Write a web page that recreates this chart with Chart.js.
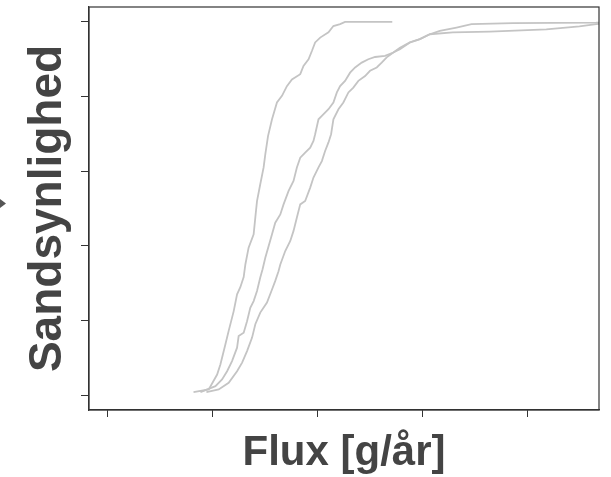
<!DOCTYPE html>
<html>
<head>
<meta charset="utf-8">
<script src="https://cdn.jsdelivr.net/npm/chart.js@4.4.1/dist/chart.umd.min.js"></script>
<style>
  html, body { margin: 0; padding: 0; background: #ffffff; }
  #wrap { width: 611px; height: 477px; }
</style>
</head>
<body>
<div id="wrap"><canvas id="c" width="611" height="477"></canvas></div>
<script>
// Empirical distribution curves of annual flux, three runs.
const fluxA = [0.816, 0.961, 1.041, 1.072, 1.120, 1.151, 1.199, 1.231, 1.262, 1.294, 1.310, 1.341, 1.389, 1.405, 1.421, 1.452, 1.484, 1.500, 1.526, 1.564, 1.611, 1.659, 1.706, 1.754, 1.833, 1.864, 1.912, 1.944, 1.975, 2.023, 2.102, 2.149, 2.213, 2.260, 2.710];
const probA = [0.008, 0.015, 0.055, 0.082, 0.136, 0.172, 0.225, 0.270, 0.289, 0.316, 0.350, 0.395, 0.431, 0.476, 0.520, 0.565, 0.610, 0.645, 0.694, 0.739, 0.784, 0.802, 0.828, 0.846, 0.860, 0.882, 0.900, 0.922, 0.945, 0.958, 0.972, 0.989, 0.994, 1.000, 1.000];

const fluxB = [0.882, 1.025, 1.088, 1.136, 1.183, 1.231, 1.246, 1.294, 1.326, 1.357, 1.389, 1.421, 1.452, 1.474, 1.500, 1.564, 1.595, 1.643, 1.674, 1.722, 1.769, 1.801, 1.833, 1.880, 1.928, 1.959, 1.975, 2.007, 2.039, 2.102, 2.149, 2.182, 2.213, 2.260, 2.308, 2.356, 2.419, 2.482, 2.546, 2.641, 2.720, 2.783, 2.878, 2.973, 3.068, 3.163, 3.322, 3.465, 3.860, 4.653, 4.800];
const probB = [0.008, 0.024, 0.042, 0.064, 0.091, 0.127, 0.158, 0.167, 0.198, 0.234, 0.252, 0.279, 0.315, 0.337, 0.368, 0.431, 0.462, 0.484, 0.511, 0.547, 0.574, 0.610, 0.636, 0.650, 0.663, 0.681, 0.699, 0.739, 0.748, 0.766, 0.784, 0.811, 0.828, 0.842, 0.864, 0.878, 0.891, 0.900, 0.906, 0.909, 0.918, 0.927, 0.945, 0.954, 0.967, 0.976, 0.985, 0.994, 0.997, 0.998, 1.000];

const fluxC = [0.939, 1.056, 1.151, 1.231, 1.279, 1.326, 1.374, 1.405, 1.452, 1.516, 1.564, 1.595, 1.626, 1.643, 1.690, 1.738, 1.769, 1.801, 1.833, 1.880, 1.928, 1.959, 2.007, 2.039, 2.070, 2.102, 2.127, 2.149, 2.197, 2.244, 2.292, 2.339, 2.387, 2.451, 2.498, 2.562, 2.609, 2.657, 2.720, 2.783, 2.878, 2.973, 3.068, 3.287, 3.639, 4.178, 4.494, 4.653, 4.850];
const probC = [0.008, 0.015, 0.033, 0.064, 0.087, 0.118, 0.154, 0.190, 0.221, 0.248, 0.283, 0.306, 0.332, 0.350, 0.386, 0.413, 0.440, 0.476, 0.511, 0.520, 0.556, 0.583, 0.610, 0.627, 0.654, 0.677, 0.699, 0.739, 0.766, 0.784, 0.811, 0.824, 0.842, 0.855, 0.869, 0.878, 0.891, 0.905, 0.918, 0.931, 0.945, 0.954, 0.967, 0.972, 0.974, 0.980, 0.988, 0.994, 0.999];

// Axis ticks (unlabelled)
const xTickValues = [0, 1, 2, 3, 4];
const yTickValues = [0, 0.2, 0.4, 0.6, 0.8, 1.0];
const xLimits = [0, 4.5];
const yLimits = [0, 1];

const xLabel = 'Flux [g/år]';
const yLabel = 'Sandsynlighed';

const FONT = "'Liberation Sans', Arial, Helvetica, sans-serif";
const INK = '#444444';
const AXIS = '#333333';
const CURVE = '#c4c4c4';

function pts(xs, ys) { return xs.map((x, i) => ({ x: x, y: ys[i] })); }
function pad(lim) { const d = (lim[1] - lim[0]) * 0.04; return [lim[0] - d, lim[1] + d]; }
const xr = pad(xLimits), yr = pad(yLimits);

function curve(xs, ys) {
  return {
    data: pts(xs, ys),
    borderColor: CURVE,
    borderWidth: 1.8,
    pointRadius: 0,
    tension: 0,
    fill: false
  };
}

// Frame around the plotting region plus the small marker at the left edge
const framePlugin = {
  id: 'frame',
  afterDraw(chart) {
    const { ctx, chartArea: a } = chart;
    ctx.save();
    ctx.strokeStyle = AXIS;
    ctx.lineWidth = 1.2;
    ctx.strokeRect(a.left, a.top, a.right - a.left, a.bottom - a.top);
    ctx.fillStyle = '#555555';
    ctx.beginPath();
    ctx.moveTo(0, 199);
    ctx.lineTo(6, 203.5);
    ctx.lineTo(0, 208);
    ctx.closePath();
    ctx.fill();
    ctx.restore();
  }
};

new Chart(document.getElementById('c'), {
  type: 'line',
  data: { datasets: [curve(fluxA, probA), curve(fluxB, probB), curve(fluxC, probC)] },
  options: {
    responsive: false,
    animation: false,
    devicePixelRatio: 1,
    layout: { padding: { top: 7, right: 12, left: 0, bottom: 0 } },
    plugins: { legend: { display: false }, tooltip: { enabled: false } },
    scales: {
      x: {
        type: 'linear',
        min: xr[0], max: xr[1],
        afterBuildTicks(s) { s.ticks = xTickValues.map(v => ({ value: v })); },
        ticks: { display: false },
        grid: { drawOnChartArea: false, drawTicks: true, tickLength: 7, color: AXIS, lineWidth: 1 },
        border: { display: true, color: AXIS, width: 1.2 },
        title: {
          display: true, text: xLabel, color: INK,
          font: { family: FONT, size: 42, weight: 'bold', lineHeight: 1 },
          padding: { top: 15, bottom: 3 }
        }
      },
      y: {
        type: 'linear',
        min: yr[0], max: yr[1],
        afterBuildTicks(s) { s.ticks = yTickValues.map(v => ({ value: v })); },
        ticks: { display: false },
        grid: { drawOnChartArea: false, drawTicks: true, tickLength: 8, color: AXIS, lineWidth: 1 },
        border: { display: true, color: AXIS, width: 1.2 },
        title: {
          display: true, text: yLabel, color: INK,
          font: { family: FONT, size: 46, weight: 'bold', lineHeight: 1 },
          padding: { top: 25, bottom: 10 }
        }
      }
    }
  },
  plugins: [framePlugin]
});
</script>
</body>
</html>
